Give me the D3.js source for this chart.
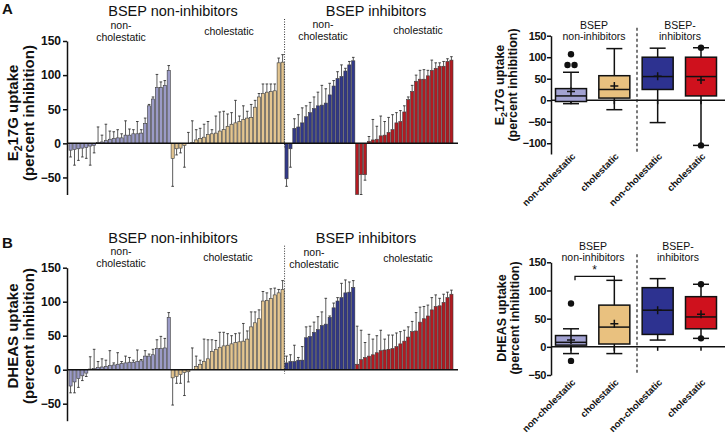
<!DOCTYPE html>
<html>
<head>
<meta charset="utf-8">
<script src="https://cdn.jsdelivr.net/npm/d3@7"></script>
<style>
body { margin: 0; background: #fff; }
svg { display: block; font-family: 'Liberation Sans', Arial, sans-serif; }
</style>
</head>
<body>
<svg id="chart" width="727" height="437"></svg>
<script>
// ---- bar data (percent inhibition, sorted per group) ----
const lavA = [-10,-9,-8,-7,-6,-4,-3,1,2,4,6,7,8,8,12,12,14,14,15,29,55,65,82,82,85,107];
const lavAErr = [-20,-32,-25,-20,-22,-32,-14,24,12,28,18,17,20,14,33,21,20,32,20,37,57,68,101,90,92,114];
const tanA = [-22,-8,-7,-3,0,1,5,7,9,13,14,15,18,20,25,28,30,32,35,37,38,53,68,73,75,76,77,118,119];
const tanAErr = [-63,-17,-14,-35,16,33,20,22,28,32,20,40,46,47,43,45,63,40,55,47,57,63,73,87,87,87,87,125,130];
const bluA = [-52,-8,22,24,30,39,45,51,55,56,59,71,84,95,98,106,115,121];
const bluAErr = [-63,-35,36,42,52,55,60,68,75,85,80,88,92,105,115,110,120,126];
const redA = [-75,-46,-46,3,5,6,11,12,16,20,30,32,46,64,76,91,94,94,99,107,110,113,113,120,122];
const redAErr = [-75,-75,-54,10,35,25,40,32,38,42,45,48,55,68,85,100,107,108,107,122,118,118,120,124,127];

const lavB = [-24,-18,-13,-9,-5,1,2,3,4,5,6,7,8,9,10,11,11,12,13,20,20,22,31,31,32,77];
const lavBErr = [-34,-34,-26,-16,-10,19,30,12,16,14,28,10,25,12,20,18,14,29,15,28,23,30,44,49,46,84];
const tanB = [-12,-10,-7,-4,-3,0,5,8,12,16,27,30,33,35,36,38,40,41,42,45,63,69,75,101,102,105,110,113,118];
const tanBErr = [-52,-20,-20,-38,-18,32,20,14,45,44,44,43,55,55,53,50,53,54,68,57,85,85,88,115,113,119,120,118,131];
const bluB = [10,12,12,14,14,47,49,55,59,65,67,77,91,101,106,113,114,121];
const bluBErr = [20,22,36,18,34,63,64,70,78,85,105,79,98,106,127,132,129,131];
const redB = [8,15,18,20,22,25,28,29,30,31,34,38,42,48,56,57,70,75,79,88,93,94,99,106,111];
const redBErr = [64,58,40,52,45,50,58,45,51,51,54,56,58,63,71,84,92,93,95,106,110,105,111,114,117];

// ---- box plot data: [low whisker, Q1, median, Q3, high whisker, mean] ----
const boxCats = ['non-cholestatic', 'cholestatic', 'non-cholestatic ', 'cholestatic '];
const boxA = [[-8,-3,10,27,65,20], [-22,5,25,57,120,33], [-52,25,55,100,121,56], [-105,10,55,100,122,47]];
const outA = [[82,82,107], [], [], [122,-105]];
const boxB = [[-12,3,8,20,32,12], [-12,5,35,74,118,41], [12,22,65,105,121,65], [15,32,53,89,111,58]];
const outB = [[77,-25], [], [], [111,15]];

const barColors = ['#9b9bc7', '#e3c590', '#313889', '#b31a21'];
const boxColors = ['#a2a2d2', '#e9c17f', '#2d3290', '#cf111d'];

const svg = d3.select('#chart');

const renderBars = (groups, yTop, yBottom) => {
    const bars = [];
    groups.forEach((grp, gi) => {
        grp[0].forEach((v, i) => bars.push({id: gi + '-' + i, v: v, e: grp[1][i], c: gi}));
    });

    const x = d3.scaleBand().domain(bars.map(d => d.id)).range([69, 453]).paddingInner(0.2);
    const y = d3.scaleLinear().domain([-75, 150]).range([yBottom, yTop]);
    const g = svg.append('g');

    g.selectAll('rect.bar').data(bars).enter()
        .append('rect')
        .attr('class', 'bar')
        .attr('x', d => x(d.id))
        .attr('width', x.bandwidth())
        .attr('y', d => Math.min(y(d.v), y(0)))
        .attr('height', d => Math.abs(y(d.v) - y(0)))
        .attr('fill', d => barColors[d.c])
        .attr('stroke', '#3a3a3a')
        .attr('stroke-width', 0.6);

    const errs = bars.filter(d => d.e !== d.v);
    g.selectAll('line.err').data(errs).enter()
        .append('line')
        .attr('x1', d => x(d.id) + x.bandwidth() / 2)
        .attr('x2', d => x(d.id) + x.bandwidth() / 2)
        .attr('y1', d => y(d.v))
        .attr('y2', d => y(d.e))
        .attr('stroke', '#4a4a4a')
        .attr('stroke-width', 0.9);
    g.selectAll('line.cap').data(errs).enter()
        .append('line')
        .attr('x1', d => x(d.id) + x.bandwidth() / 2 - 1.3)
        .attr('x2', d => x(d.id) + x.bandwidth() / 2 + 1.3)
        .attr('y1', d => y(d.e))
        .attr('y2', d => y(d.e))
        .attr('stroke', '#333')
        .attr('stroke-width', 0.9);

    // dotted divider between non-inhibitors and inhibitors
    const lastTan = '1-' + (groups[1][0].length - 1);
    const divX = (x(lastTan) + x.bandwidth() + x('2-0')) / 2;
    g.append('line')
        .attr('x1', divX).attr('x2', divX)
        .attr('y1', yTop - 22).attr('y2', y(0) + 4)
        .attr('stroke', '#333')
        .attr('stroke-width', 1)
        .attr('stroke-dasharray', '1,1.5');

    g.append('line')
        .attr('x1', 67).attr('x2', 458)
        .attr('y1', y(0)).attr('y2', y(0))
        .attr('stroke', '#111').attr('stroke-width', 1.5);

    const axis = g.append('g')
        .attr('transform', 'translate(67,0)')
        .call(d3.axisLeft(y).tickValues([-50, 0, 50, 100, 150]).tickSize(4).tickSizeOuter(0).tickPadding(2));
    axis.select('.domain').attr('stroke', '#111').attr('stroke-width', 1.5);
    axis.selectAll('.tick line').attr('stroke', '#111').attr('stroke-width', 1.5);
    axis.selectAll('.tick text')
        .attr('font-family', "'Liberation Sans', Arial, sans-serif")
        .attr('font-size', 12).attr('font-weight', 'bold').attr('fill', '#111');
    return y;
};

const renderBox = (stats, outliers, yDomain, yRange, ticks, labelY) => {
    const x = d3.scalePoint().domain(boxCats).range([571, 701]);
    const y = d3.scaleLinear().domain(yDomain).range(yRange);
    const g = svg.append('g');
    const bw = 31, cw = 16;

    // zero line with ticks under each box
    g.append('line')
        .attr('x1', 551).attr('x2', 725)
        .attr('y1', y(0)).attr('y2', y(0))
        .attr('stroke', '#111').attr('stroke-width', 1.5);
    g.selectAll('line.xt').data(boxCats).enter()
        .append('line')
        .attr('x1', d => x(d)).attr('x2', d => x(d))
        .attr('y1', y(0)).attr('y2', y(0) + 4)
        .attr('stroke', '#111').attr('stroke-width', 1.5);

    g.append('line')
        .attr('x1', 637).attr('x2', 637)
        .attr('y1', yRange[1] - 8).attr('y2', yRange[0])
        .attr('stroke', '#222').attr('stroke-width', 1.2)
        .attr('stroke-dasharray', '3,2.5');

    const boxes = g.selectAll('g.box').data(stats).enter().append('g');
    boxes.append('line')
        .attr('x1', (d, i) => x(boxCats[i])).attr('x2', (d, i) => x(boxCats[i]))
        .attr('y1', d => y(d[0])).attr('y2', d => y(d[4]))
        .attr('stroke', '#111').attr('stroke-width', 1.5);
    [0, 4].forEach(k => {
        boxes.append('line')
            .attr('x1', (d, i) => x(boxCats[i]) - cw / 2).attr('x2', (d, i) => x(boxCats[i]) + cw / 2)
            .attr('y1', d => y(d[k])).attr('y2', d => y(d[k]))
            .attr('stroke', '#111').attr('stroke-width', 1.5);
    });
    boxes.append('rect')
        .attr('x', (d, i) => x(boxCats[i]) - bw / 2)
        .attr('width', bw)
        .attr('y', d => y(d[3]))
        .attr('height', d => y(d[1]) - y(d[3]))
        .attr('fill', (d, i) => boxColors[i])
        .attr('stroke', '#111').attr('stroke-width', 1.5);
    boxes.append('line')
        .attr('x1', (d, i) => x(boxCats[i]) - bw / 2).attr('x2', (d, i) => x(boxCats[i]) + bw / 2)
        .attr('y1', d => y(d[2])).attr('y2', d => y(d[2]))
        .attr('stroke', '#111').attr('stroke-width', 1.5);
    boxes.append('path')
        .attr('d', (d, i) => {
            const cx = x(boxCats[i]), cy = y(d[5]);
            return `M${cx - 4},${cy}H${cx + 4}M${cx},${cy - 4}V${cy + 4}`;
        })
        .attr('stroke', '#111').attr('stroke-width', 1.5);

    const pts = [];
    outliers.forEach((vals, i) => vals.forEach((v, j) => {
        const dup = vals.filter(w => w === v).length > 1;
        const off = dup ? (vals.indexOf(v) === j ? -3.5 : 3.5) : 0;
        pts.push({c: boxCats[i], v: v, off: off});
    }));
    g.selectAll('circle').data(pts).enter()
        .append('circle')
        .attr('cx', d => x(d.c) + d.off)
        .attr('cy', d => y(d.v))
        .attr('r', 3.2)
        .attr('fill', '#111');

    const axis = g.append('g')
        .attr('transform', 'translate(551,0)')
        .call(d3.axisLeft(y).tickValues(ticks).tickSize(4).tickSizeOuter(0).tickPadding(1));
    axis.select('.domain').attr('stroke', '#111').attr('stroke-width', 1.5);
    axis.selectAll('.tick line').attr('stroke', '#111').attr('stroke-width', 1.5);
    axis.selectAll('.tick text')
        .attr('font-family', "'Liberation Sans', Arial, sans-serif")
        .attr('font-size', 11).attr('font-weight', 'bold').attr('fill', '#111')
        .attr('letter-spacing', -0.4);

    g.selectAll('text.xl').data(boxCats).enter()
        .append('text')
        .attr('transform', d => `translate(${x(d) + 5},${labelY}) rotate(-45)`)
        .attr('text-anchor', 'end')
        .attr('font-size', 9.5)
        .attr('font-weight', 'bold')
        .attr('fill', '#111')
        .text(d => d.trim());
    return y;
};

const addText = (x, y, str, size, opts = {}) => {
    const t = svg.append('text')
        .attr('x', x).attr('y', y)
        .attr('text-anchor', opts.anchor || 'middle')
        .attr('font-size', size)
        .attr('font-weight', opts.bold ? 'bold' : 'normal')
        .attr('fill', '#111')
        .text(str);
    return t;
};

const addYTitle = (cx, cy, first, size, gap) => {
    const g = svg.append('g').attr('transform', `translate(${cx},${cy}) rotate(-90)`);
    const t1 = g.append('text').attr('y', 0).attr('text-anchor', 'middle')
        .attr('font-size', size).attr('font-weight', 'bold').attr('fill', '#111');
    if (first === 'E217G') {
        t1.append('tspan').text('E');
        t1.append('tspan').attr('font-size', size * 0.7).attr('dy', size * 0.25).text('2');
        t1.append('tspan').attr('dy', -size * 0.25).text('17G uptake');
    } else {
        t1.text(first);
    }
    g.append('text').attr('y', gap).attr('text-anchor', 'middle')
        .attr('font-size', size).attr('font-weight', 'bold').attr('fill', '#111')
        .text('(percent inhibition)');
};

// ---- panel A ----
renderBars([[lavA, lavAErr], [tanA, tanAErr], [bluA, bluAErr], [redA, redAErr]], 41, 194.5);
renderBox(boxA, outA, [-125, 150], [154, 35.7], [-100, -50, 0, 50, 100, 150], 157);

// ---- panel B ----
renderBars([[lavB, lavBErr], [tanB, tanBErr], [bluB, bluBErr], [redB, redBErr]], 267.7, 420.7);
const yB = renderBox(boxB, outB, [-50, 150], [375, 262.3], [-50, 0, 50, 100, 150], 383);

// significance bracket
const sx = d3.scalePoint().domain(boxCats).range([571, 701]);
svg.append('path')
    .attr('d', `M${sx(boxCats[0]) + 4},${yB(118)}V${yB(125)}H${sx(boxCats[1])}V${yB(118)}`)
    .attr('fill', 'none').attr('stroke', '#111').attr('stroke-width', 1.3);
addText((sx(boxCats[0]) + sx(boxCats[1])) / 2 + 2, yB(125) - 2, '*', 12);

// panel letters
addText(2, 14, 'A', 15, {bold: true, anchor: 'start'});
addText(2, 248, 'B', 15, {bold: true, anchor: 'start'});

// bar chart headings
addText(173, 16, 'BSEP non-inhibitors', 14.5);
addText(376, 16, 'BSEP inhibitors', 14.5);
addText(121, 29, 'non-', 10.5);
addText(121, 41, 'cholestatic', 10.5);
addText(229, 35, 'cholestatic', 10.5);
addText(323, 28, 'non-', 10.5);
addText(323, 40, 'cholestatic', 10.5);
addText(418, 34, 'cholestatic', 10.5);

addText(173, 243, 'BSEP non-inhibitors', 14.5);
addText(366, 243, 'BSEP inhibitors', 14.5);
addText(121, 255, 'non-', 10.5);
addText(121, 267, 'cholestatic', 10.5);
addText(228, 261, 'cholestatic', 10.5);
addText(314, 256, 'non-', 10.5);
addText(314, 268, 'cholestatic', 10.5);
addText(408, 262, 'cholestatic', 10.5);

// box plot headings
addText(594, 29, 'BSEP', 10.5);
addText(594, 40, 'non-inhibitors', 10.5);
addText(680, 29, 'BSEP-', 10.5);
addText(680, 40, 'inhibitors', 10.5);
addText(593, 250, 'BSEP', 10.5);
addText(593, 261, 'non-inhibitors', 10.5);
addText(678, 250, 'BSEP-', 10.5);
addText(678, 261, 'inhibitors', 10.5);

// axis titles
addYTitle(18, 113, 'E217G', 15, 16);
addYTitle(504, 85, 'E217G', 12.5, 13);
addYTitle(18, 336, 'DHEAS uptake', 15, 16);
addYTitle(506, 318, 'DHEAS uptake', 12.5, 13);
</script>
</body>
</html>
